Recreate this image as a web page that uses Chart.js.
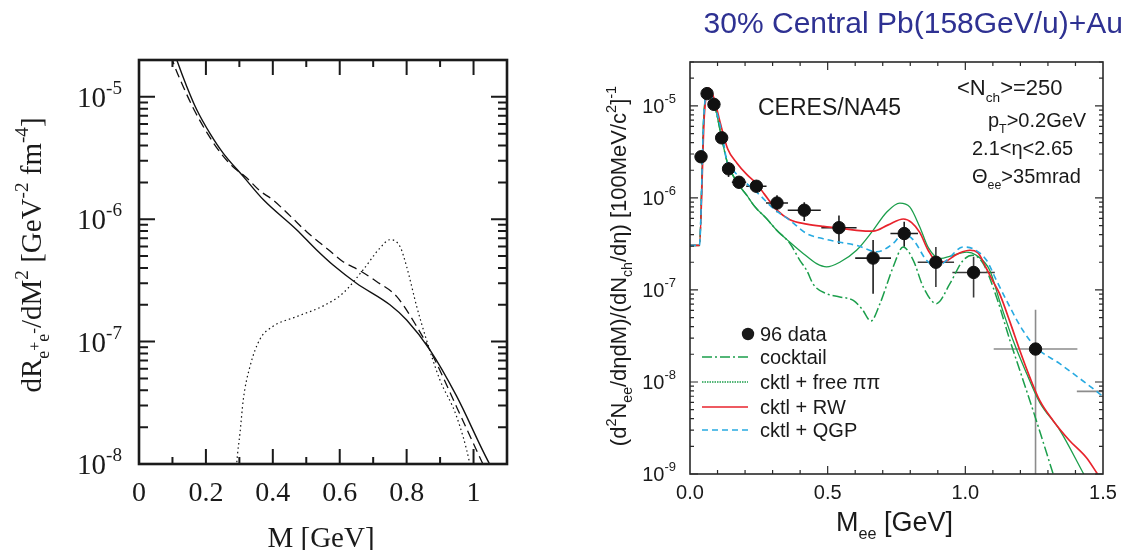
<!DOCTYPE html>
<html>
<head>
<meta charset="utf-8">
<script src="https://cdn.jsdelivr.net/npm/chart.js@4.4.1/dist/chart.umd.min.js"></script>
<style>
  html, body { margin: 0; padding: 0; background: #fff; }
  #wrap { position: relative; width: 1125px; height: 550px; overflow: hidden; }
  #rateChart { position: absolute; left: 0; top: 0; }
  #ceresChart { position: absolute; left: 560px; top: 0; }
</style>
</head>
<body>
<div id="wrap">
  <canvas id="rateChart" width="560" height="550"></canvas>
  <canvas id="ceresChart" width="565" height="550"></canvas>
</div>
<script>
// ---- left panel: dilepton rates vs invariant mass ----
const rateSolidM = [0.095, 0.113, 0.143, 0.173, 0.2125, 0.252, 0.312, 0.372, 0.471, 0.531, 0.581, 0.65, 0.75, 0.80, 0.869, 0.949, 1.048, 1.07];
const rateSolid  = [2.8e-5, 2.0e-5, 1.21e-5, 7.8e-6, 5.0e-6, 3.45e-6, 2.23e-6, 1.44e-6, 8.2e-7, 5.6e-7, 4.2e-7, 3.0e-7, 2.0e-7, 1.5e-7, 8.6e-8, 3.6e-8, 1.0e-8, 8e-9];
const rateDashM  = [0.085, 0.1, 0.133, 0.165, 0.205, 0.245, 0.28, 0.32, 0.362, 0.40, 0.451, 0.501, 0.571, 0.61, 0.66, 0.71, 0.77, 0.83, 0.879, 0.95, 1.028, 1.05];
const rateDash   = [2.8e-5, 2.0e-5, 1.2e-5, 7.8e-6, 5.0e-6, 3.45e-6, 2.7e-6, 2.2e-6, 1.7e-6, 1.44e-6, 1.07e-6, 7.9e-7, 5.5e-7, 4.5e-7, 3.8e-7, 3.1e-7, 2.34e-7, 1.33e-7, 7.6e-8, 2.9e-8, 1.0e-8, 7.5e-9];
const rateDotM   = [0.29, 0.292, 0.302, 0.312, 0.332, 0.361, 0.40, 0.471, 0.551, 0.61, 0.67, 0.72, 0.75, 0.78, 0.80, 0.83, 0.859, 0.899, 0.949, 0.989, 0.995];
const rateDot    = [8e-9, 1.0e-8, 1.8e-8, 3.4e-8, 6.3e-8, 1.04e-7, 1.33e-7, 1.6e-7, 1.96e-7, 2.49e-7, 3.86e-7, 5.8e-7, 6.8e-7, 6.0e-7, 4.1e-7, 1.94e-7, 1.04e-7, 4.9e-8, 2.46e-8, 1.0e-8, 8e-9];
const rateXTicks = [0, 0.2, 0.4, 0.6, 0.8, 1];
const rateXLabels = ['0', '0.2', '0.4', '0.6', '0.8', '1'];
const rateYExps = [-8, -7, -6, -5];

// ---- right panel: CERES/NA45 e+e- mass spectrum ----
const massData  = [0.040, 0.062, 0.087, 0.115, 0.140, 0.178, 0.241, 0.316, 0.415, 0.541, 0.665, 0.778, 0.893, 1.030, 1.255, 1.56];
const yieldData = [2.8e-6, 1.36e-5, 1.04e-5, 4.5e-6, 2.07e-6, 1.48e-6, 1.34e-6, 8.8e-7, 7.35e-7, 4.75e-7, 2.22e-7, 4.1e-7, 2.0e-7, 1.55e-7, 2.28e-8, 7.9e-9];
const massErr   = [0, 0, 0, 0, 0, 0.026, 0.037, 0.04, 0.06, 0.064, 0.065, 0.05, 0.066, 0.077, 0.152, 0.155];
const yieldLo   = [2.8e-6, 1.36e-5, 1.04e-5, 4.5e-6, 1.69e-6, 1.3e-6, 1.2e-6, 7.0e-7, 5.6e-7, 3.16e-7, 9.1e-8, 2.95e-7, 1.08e-7, 8.3e-8, 1e-10, 7.9e-9];
const yieldHi   = [2.8e-6, 1.36e-5, 1.04e-5, 4.5e-6, 2.46e-6, 1.65e-6, 1.47e-6, 1.07e-6, 9.0e-7, 6.45e-7, 3.5e-7, 5.5e-7, 2.93e-7, 2.29e-7, 6.1e-8, 7.9e-9];

const cktM = [0, 0.034, 0.050, 0.066, 0.09, 0.115, 0.135, 0.17, 0.206, 0.236, 0.278, 0.315, 0.363, 0.399, 0.424, 0.448, 0.496, 0.544, 0.593, 0.625, 0.657, 0.69, 0.738, 0.774, 0.811, 0.847, 0.895, 0.944, 0.992, 1.028, 1.065, 1.113, 1.162, 1.21, 1.258, 1.319];
const ckt  = [3.05e-7, 3.05e-7, 7.5e-6, 1.48e-5, 1.0e-5, 4.5e-6, 2.46e-6, 1.49e-6, 1.07e-6, 8.0e-7, 5.96e-7, 4.45e-7, 3.2e-7, 2.1e-7, 1.63e-7, 1.15e-7, 9.1e-8, 8.4e-8, 7.7e-8, 6.2e-8, 4.6e-8, 7.1e-8, 1.78e-7, 2.93e-7, 2.1e-7, 1.08e-7, 7.1e-8, 1.17e-7, 2.1e-7, 2.38e-7, 1.93e-7, 8.4e-8, 2.83e-8, 1.04e-8, 3.8e-9, 1.0e-9];
const freeM = [0, 0.034, 0.050, 0.066, 0.09, 0.115, 0.135, 0.17, 0.206, 0.236, 0.278, 0.315, 0.363, 0.412, 0.46, 0.496, 0.544, 0.605, 0.665, 0.714, 0.762, 0.798, 0.835, 0.865, 0.907, 0.956, 1.004, 1.04, 1.089, 1.125, 1.174, 1.222, 1.27, 1.343, 1.43];
const free  = [3.05e-7, 3.05e-7, 7.5e-6, 1.48e-5, 1.0e-5, 4.5e-6, 2.46e-6, 1.49e-6, 1.07e-6, 8.0e-7, 5.96e-7, 4.45e-7, 3.3e-7, 2.48e-7, 1.93e-7, 1.78e-7, 2.0e-7, 2.7e-7, 4.45e-7, 7.0e-7, 8.8e-7, 8.0e-7, 4.8e-7, 2.9e-7, 2.2e-7, 2.38e-7, 2.58e-7, 2.38e-7, 1.63e-7, 7.5e-8, 2.8e-8, 1.25e-8, 6.0e-9, 3.0e-9, 1.0e-9];
const rwM = [0, 0.034, 0.052, 0.070, 0.091, 0.109, 0.137, 0.17, 0.206, 0.24, 0.27, 0.315, 0.363, 0.424, 0.484, 0.544, 0.605, 0.665, 0.72, 0.775, 0.805, 0.835, 0.865, 0.9, 0.93, 0.96, 0.99, 1.016, 1.045, 1.077, 1.10, 1.125, 1.162, 1.198, 1.234, 1.27, 1.319, 1.379, 1.44, 1.48];
const rw  = [3.05e-7, 3.05e-7, 7.9e-6, 1.55e-5, 1.1e-5, 6.7e-6, 3.4e-6, 2.4e-6, 1.8e-6, 1.45e-6, 1.1e-6, 7.4e-7, 5.8e-7, 5.2e-7, 4.9e-7, 4.7e-7, 4.45e-7, 4.35e-7, 5.1e-7, 5.9e-7, 5.4e-7, 4.2e-7, 2.7e-7, 2.0e-7, 2.05e-7, 2.35e-7, 2.6e-7, 2.7e-7, 2.55e-7, 1.7e-7, 1.25e-7, 9.0e-8, 4.5e-8, 2.2e-8, 1.13e-8, 6.3e-9, 3.8e-9, 2.3e-9, 1.5e-9, 1.0e-9];
const qgpM = [0, 0.034, 0.050, 0.066, 0.09, 0.115, 0.135, 0.163, 0.206, 0.254, 0.302, 0.363, 0.424, 0.484, 0.544, 0.605, 0.678, 0.738, 0.774, 0.811, 0.859, 0.895, 0.932, 0.992, 1.028, 1.077, 1.113, 1.162, 1.21, 1.255, 1.343, 1.44, 1.51];
const qgp  = [3.05e-7, 3.05e-7, 7.5e-6, 1.48e-5, 1.0e-5, 5.2e-6, 2.46e-6, 1.9e-6, 1.43e-6, 1.07e-6, 7.7e-7, 5.7e-7, 4.1e-7, 3.6e-7, 3.3e-7, 3.05e-7, 2.6e-7, 3.2e-7, 4.1e-7, 3.5e-7, 2.1e-7, 1.78e-7, 2.1e-7, 2.93e-7, 2.8e-7, 2.1e-7, 1.27e-7, 6.5e-8, 3.6e-8, 2.4e-8, 1.58e-8, 9.6e-9, 6.6e-9];

const massTicks = [0, 0.5, 1.0, 1.5];
const massLabels = ['0.0', '0.5', '1.0', '1.5'];
const yieldExps = [-9, -8, -7, -6, -5];
const legendLabels = ['96 data', 'cocktail', 'cktl + free \u03c0\u03c0', 'cktl + RW', 'cktl + QGP'];

const SERIF = '"Liberation Serif", "DejaVu Serif", serif';
const SANS = '"Liberation Sans", Arial, sans-serif';
const GREEN = '#1b9e4b';
const RED = '#e8232c';
const BLUE = '#27aae1';

const toXY = (xs, ys) => xs.map((v, i) => ({ x: v, y: ys[i] }));
const sup = t => [t, 0.66, -0.45];
const sub = t => [t, 0.64, 0.25];

// text with sub/superscripts; segs = [text, scale, dy as fraction of size]
function drawRich(ctx, segs, x, y, size, family, align) {
  let w = 0;
  segs.forEach(s => { ctx.font = (size * s[1]) + 'px ' + family; w += ctx.measureText(s[0]).width; });
  let cx = align === 'right' ? x - w : align === 'center' ? x - w / 2 : x;
  ctx.textAlign = 'left';
  ctx.textBaseline = 'alphabetic';
  segs.forEach(s => {
    ctx.font = (size * s[1]) + 'px ' + family;
    ctx.fillText(s[0], cx, y + s[2] * size);
    cx += ctx.measureText(s[0]).width;
  });
}

function logTicks(scale, exps, draw) {
  exps.forEach(e => {
    for (let m = 1; m <= 9; m++) {
      const v = m * Math.pow(10, e);
      if (v < scale.min * 0.999 || v > scale.max * 1.001) continue;
      draw(scale.getPixelForValue(v), m === 1);
    }
  });
}

const rateFrame = {
  id: 'rateFrame',
  afterDatasetsDraw(chart) {
    const { ctx, chartArea: a, scales: { x, y } } = chart;
    ctx.save();
    ctx.strokeStyle = '#1a1a1a';
    ctx.lineWidth = 2;
    ctx.beginPath();
    for (let i = 1; i <= 10; i++) {
      const px = x.getPixelForValue(i / 10);
      const len = i % 2 ? 7 : 15;
      ctx.moveTo(px, a.bottom); ctx.lineTo(px, a.bottom - len);
      ctx.moveTo(px, a.top); ctx.lineTo(px, a.top + len);
    }
    logTicks(y, rateYExps.concat([-4]), (py, major) => {
      const len = major ? 16 : 9;
      ctx.moveTo(a.left, py); ctx.lineTo(a.left + len, py);
      ctx.moveTo(a.right, py); ctx.lineTo(a.right - len, py);
    });
    ctx.stroke();
    ctx.lineWidth = 2.6;
    ctx.strokeRect(a.left, a.top, a.right - a.left, a.bottom - a.top);

    ctx.fillStyle = '#1a1a1a';
    ctx.font = '28px ' + SERIF;
    ctx.textAlign = 'center';
    ctx.textBaseline = 'alphabetic';
    rateXTicks.forEach((v, i) => ctx.fillText(rateXLabels[i], x.getPixelForValue(v), 501));
    rateYExps.forEach(e => {
      const py = y.getPixelForValue(Math.pow(10, e));
      drawRich(ctx, [['10', 1, 0], sup(String(e))], 122, py + 10, 29, SERIF, 'right');
    });
    ctx.font = '29px ' + SERIF;
    ctx.textAlign = 'center';
    ctx.fillText('M [GeV]', (a.left + a.right) / 2 - 2, 547);

    ctx.translate(41, 255);
    ctx.rotate(-Math.PI / 2);
    drawRich(ctx, [['dR', 1, 0], ['e', 0.62, 0.28], ['+', 0.55, -0.05], ['e', 0.62, 0.28], ['-', 0.6, -0.08],
      ['/dM', 1, 0], sup('2'), [' [GeV', 1, 0], sup('-2'), [' fm', 1, 0], sup('-4'), [']', 1, 0]],
      0, 0, 29, SERIF, 'center');
    ctx.restore();
  }
};

new Chart(document.getElementById('rateChart'), {
  type: 'line',
  data: {
    datasets: [
      { data: toXY(rateSolidM, rateSolid), borderColor: '#111', borderWidth: 1.4 },
      { data: toXY(rateDashM, rateDash), borderColor: '#111', borderWidth: 1.3, borderDash: [9, 5] },
      { data: toXY(rateDotM, rateDot), borderColor: '#111', borderWidth: 1.2, borderDash: [1.5, 3] }
    ]
  },
  options: {
    responsive: false,
    animation: false,
    events: [],
    layout: { padding: { left: 139, right: 53, top: 60, bottom: 86 } },
    elements: { point: { radius: 0 }, line: { cubicInterpolationMode: 'monotone', fill: false } },
    plugins: { legend: { display: false }, tooltip: { enabled: false } },
    scales: {
      x: { type: 'linear', display: false, min: 0, max: 1.1 },
      y: { type: 'logarithmic', display: false, min: 1e-8, max: 2e-5 }
    }
  },
  plugins: [rateFrame]
});

const ceresFrame = {
  id: 'ceresFrame',
  beforeDatasetsDraw(chart) {
    // error bars under the markers
    const { ctx, chartArea: a, scales: { x, y } } = chart;
    ctx.save();
    ctx.beginPath();
    ctx.rect(a.left, a.top, a.right - a.left, a.bottom - a.top);
    ctx.clip();
    ctx.lineWidth = 1.6;
    massData.forEach((m, i) => {
      const px = x.getPixelForValue(m);
      const py = y.getPixelForValue(yieldData[i]);
      ctx.strokeStyle = m > 1.2 ? '#8c8c8c' : m > 0.85 ? '#3a3a3a' : '#1e1e1e';
      ctx.beginPath();
      if (massErr[i] > 0) {
        ctx.moveTo(x.getPixelForValue(m - massErr[i]), py);
        ctx.lineTo(x.getPixelForValue(m + massErr[i]), py);
      }
      if (yieldHi[i] > yieldLo[i]) {
        ctx.moveTo(px, y.getPixelForValue(yieldHi[i]));
        ctx.lineTo(px, y.getPixelForValue(yieldLo[i]));
      }
      ctx.stroke();
    });
    ctx.restore();
  },
  afterDraw(chart) {
    const { ctx, chartArea: a, scales: { x, y } } = chart;
    ctx.save();
    ctx.strokeStyle = '#2a2a2a';
    ctx.lineWidth = 1.2;
    ctx.beginPath();
    for (let i = 1; i < 15; i++) {
      const px = x.getPixelForValue(i / 10);
      const len = i % 5 ? 4 : 8;
      ctx.moveTo(px, a.bottom); ctx.lineTo(px, a.bottom - len);
      ctx.moveTo(px, a.top); ctx.lineTo(px, a.top + len);
    }
    logTicks(y, yieldExps, (py, major) => {
      const len = major ? 8 : 4;
      ctx.moveTo(a.left, py); ctx.lineTo(a.left + len, py);
      ctx.moveTo(a.right, py); ctx.lineTo(a.right - len, py);
    });
    ctx.stroke();
    ctx.lineWidth = 1.6;
    ctx.strokeRect(a.left, a.top, a.right - a.left, a.bottom - a.top);

    ctx.fillStyle = '#1a1a1a';
    ctx.font = '20px ' + SANS;
    ctx.textAlign = 'center';
    ctx.textBaseline = 'alphabetic';
    massTicks.forEach((v, i) => ctx.fillText(massLabels[i], x.getPixelForValue(v), 499));
    yieldExps.forEach(e => {
      const py = y.getPixelForValue(Math.pow(10, e));
      drawRich(ctx, [['10', 1, 0], [String(e), 0.65, -0.5]], 116, py + 7, 20, SANS, 'right');
    });
    drawRich(ctx, [['M', 1, 0], ['ee', 0.6, 0.3], [' [GeV]', 1, 0]], (a.left + a.right) / 2 - 2, 531, 27, SANS, 'center');

    // title
    ctx.fillStyle = '#2e3192';
    ctx.font = '30px ' + SANS;
    ctx.textAlign = 'right';
    ctx.fillText('30% Central Pb(158GeV/u)+Au', 563, 33);

    // annotations
    ctx.fillStyle = '#1a1a1a';
    ctx.font = '23px ' + SANS;
    ctx.textAlign = 'left';
    ctx.fillText('CERES/NA45', 198, 115);
    drawRich(ctx, [['<N', 1, 0], ['ch', 0.62, 0.3], ['>=250', 1, 0]], 397, 95, 22, SANS, 'left');
    drawRich(ctx, [['p', 1, 0], ['T', 0.62, 0.3], ['>0.2GeV', 1, 0]], 428, 127, 20, SANS, 'left');
    drawRich(ctx, [['2.1<\u03b7<2.65', 1, 0]], 412, 155, 20, SANS, 'left');
    drawRich(ctx, [['\u0398', 1, 0], ['ee', 0.62, 0.3], ['>35mrad', 1, 0]], 412, 183, 20, SANS, 'left');

    // legend
    const ds = chart.data.datasets;
    const rows = [334, 357, 382, 407, 430];
    ctx.font = '20px ' + SANS;
    ctx.fillStyle = '#1a1a1a';
    ctx.beginPath();
    ctx.arc(188, rows[0], 6.2, 0, Math.PI * 2);
    ctx.fill();
    legendLabels.forEach((t, i) => ctx.fillText(t, 200, rows[i] + 7));
    [1, 2, 3, 4].forEach(k => {
      const d = ds[k];
      ctx.save();
      ctx.strokeStyle = d.borderColor;
      ctx.lineWidth = d.borderWidth;
      ctx.setLineDash(k === 2 ? [1.5, 1] : (d.borderDash || []));
      ctx.beginPath();
      ctx.moveTo(142, rows[k]);
      ctx.lineTo(188, rows[k]);
      ctx.stroke();
      ctx.restore();
    });

    // axis title
    ctx.translate(66, 266);
    ctx.rotate(-Math.PI / 2);
    drawRich(ctx, [['(d', 1, 0], sup('2'), ['N', 1, 0], sub('ee'), ['/d\u03b7dM)/(dN', 1, 0], sub('ch'),
      ['/d\u03b7) [100MeV/c', 1, 0], sup('2'), [']', 1, 0], sup('-1')], 0, 0, 22, SANS, 'center');
    ctx.restore();
  }
};

new Chart(document.getElementById('ceresChart'), {
  type: 'line',
  data: {
    datasets: [
      { type: 'scatter', data: toXY(massData, yieldData), backgroundColor: '#111', borderColor: '#111', pointRadius: 6.2, order: 0 },
      { data: toXY(cktM, ckt), borderColor: GREEN, borderWidth: 1.5, borderDash: [10, 3, 2, 3], order: 4 },
      { data: toXY(freeM, free), borderColor: GREEN, borderWidth: 1.3, order: 3 },
      { data: toXY(rwM, rw), borderColor: RED, borderWidth: 1.7, order: 2 },
      { data: toXY(qgpM, qgp), borderColor: BLUE, borderWidth: 1.6, borderDash: [6, 4], order: 1 }
    ]
  },
  options: {
    responsive: false,
    animation: false,
    events: [],
    layout: { padding: { left: 130, right: 22, top: 62, bottom: 76 } },
    elements: { point: { radius: 0 }, line: { cubicInterpolationMode: 'monotone', fill: false } },
    plugins: { legend: { display: false }, tooltip: { enabled: false } },
    scales: {
      x: { type: 'linear', display: false, min: 0, max: 1.5 },
      y: { type: 'logarithmic', display: false, min: 1e-9, max: 3e-5 }
    }
  },
  plugins: [ceresFrame]
});
</script>
</body>
</html>
